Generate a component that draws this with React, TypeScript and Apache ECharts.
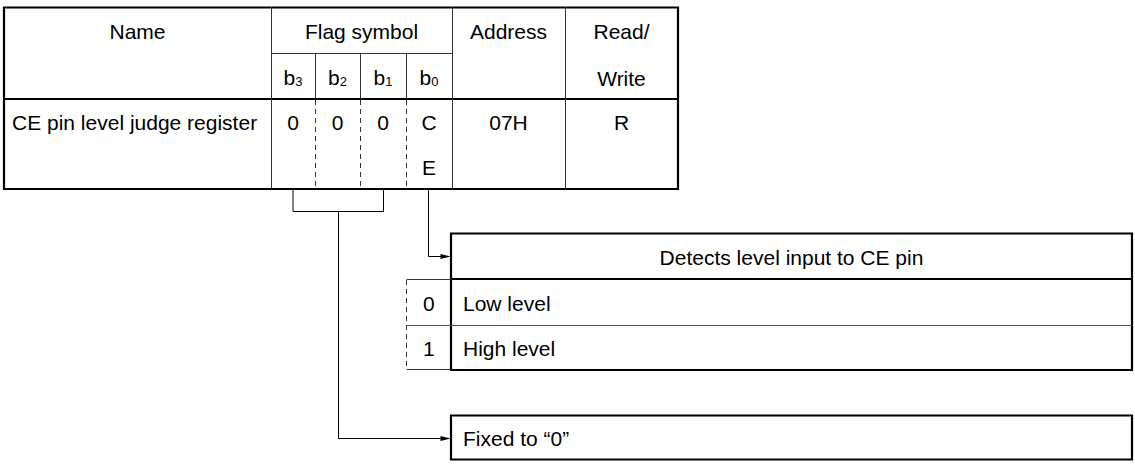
import React, { useEffect, useRef } from "react";
import * as echarts from "echarts";

// ---- content ----
const headerNames = ["Name", "Flag symbol", "Address", "Read/\nWrite"];
const bitLabels = ["3", "2", "1", "0"]; // subscript digits for b3..b0
const bitValues = ["0", "0", "0", "CE"];
const registerName = "CE pin level judge register";
const registerAddress = "07H";
const registerRW = "R";
const functionTitle = "Detects level input to CE pin";
const optionValues = ["0", "1"];
const optionTexts = ["Low level", "High level"];
const fixedText = "Fixed to \u201c0\u201d";

// ---- layout ----
const FONT = '"Liberation Sans", Arial, Helvetica, sans-serif';
const FS = 21;
const colX = [4, 271, 315, 360, 406, 452, 565, 678];
const rowY = [7, 53, 99, 144, 189];
const box1 = { l: 451, t: 233.5, r: 1132, b: 370, head: 279, mid: 325, dashX: 406.5 };
const box2 = { l: 451, t: 415.5, r: 1132, b: 459.5 };
const INK = "#000";
const THIN = "#333";

function txt(x: number, y: number, text: string, align = "center", extra: any = {}) {
  return {
    type: "text",
    x,
    y,
    silent: true,
    style: {
      text,
      fontSize: FS,
      fontFamily: FONT,
      fill: INK,
      align,
      verticalAlign: "middle",
      textAlign: align,
      textVerticalAlign: "middle",
      ...extra,
    },
  };
}
function ln(x1: number, y1: number, x2: number, y2: number, w = 1, color = INK, dash?: number[]) {
  return {
    type: "line",
    silent: true,
    shape: { x1, y1, x2, y2 },
    style: { stroke: color, lineWidth: w, lineDash: dash, fill: "none" },
  };
}
function arrow(tipX: number, y: number) {
  return {
    type: "polygon",
    silent: true,
    shape: { points: [[tipX, y], [tipX - 10, y - 2.5], [tipX - 10, y + 2.5]] },
    style: { fill: INK, stroke: "none" },
  };
}

function buildGraphics() {
  const g: any[] = [];
  const [x0, xName, xb3b2, xb2b1, xb1b0, xFlagR, xAddrR, xR] = colX;
  const [y0, yH1, yH2, yMid, yB] = rowY;
  const c = (a: number, b: number) => (a + b) / 2;

  // table outer border
  g.push({
    type: "rect",
    silent: true,
    shape: { x: x0, y: y0 + 0.5, width: xR - x0, height: yB - y0 - 0.5 },
    style: { fill: "none", stroke: INK, lineWidth: 2.2 },
  });
  // header bottom thick line
  g.push(ln(x0, yH2, xR, yH2, 2.2));
  // vertical column lines
  [xName, xFlagR, xAddrR].forEach((x) => g.push(ln(x + 0.5, y0, x + 0.5, yB, 1, THIN)));
  // flag header split
  g.push(ln(xName, yH1 + 0.5, xFlagR, yH1 + 0.5, 1, THIN));
  // bit separators: solid in header, dashed in body
  [xb3b2, xb2b1, xb1b0].forEach((x) => {
    g.push(ln(x + 0.5, yH1, x + 0.5, yH2, 1, THIN));
    g.push(ln(x + 0.5, yH2 + 1, x + 0.5, yB - 1, 1, THIN, [5, 4]));
  });

  // header texts
  g.push(txt(c(x0, xName), c(y0, yH1) + 1, headerNames[0]));
  g.push(txt(c(xName, xFlagR), c(y0, yH1) + 1, headerNames[1]));
  g.push(txt(c(xFlagR, xAddrR), c(y0, yH1) + 1, headerNames[2]));
  const rw = headerNames[3].split("\n");
  g.push(txt(c(xAddrR, xR), c(y0, yH1) + 1, rw[0]));
  g.push(txt(c(xAddrR, xR), c(yH1, yH2) + 2, rw[1]));

  const bitCols = [xName, xb3b2, xb2b1, xb1b0, xFlagR];
  bitLabels.forEach((d, i) => {
    const cx = c(bitCols[i], bitCols[i + 1]);
    g.push(
      txt(cx, c(yH1, yH2) + 1, "{b|b}{s|" + d + "}", "center", {
        rich: {
          b: { fontSize: FS, fontFamily: FONT, fill: INK },
          s: { fontSize: 13, fontFamily: FONT, fill: INK, verticalAlign: "bottom" },
        },
      })
    );
    const chars = bitValues[i].split("");
    chars.forEach((ch, k) => {
      g.push(txt(cx, c(yH2, yMid) + 1 + k * (yMid - yH2), ch));
    });
  });

  // register row
  g.push(txt(12, c(yH2, yMid) + 1, registerName, "left"));
  g.push(txt(c(xFlagR, xAddrR), c(yH2, yMid) + 1, registerAddress));
  g.push(txt(c(xAddrR, xR), c(yH2, yMid) + 1, registerRW));

  // bracket under b3..b1
  const bxL = c(xName, xb3b2) - 0.5 + 0.5;
  const bxR = c(xb2b1, xb1b0) + 0.5;
  const by = 211.5;
  g.push({
    type: "polyline",
    silent: true,
    shape: { points: [[bxL, yB], [bxL, by], [bxR, by], [bxR, yB]] },
    style: { stroke: INK, lineWidth: 1, fill: "none" },
  });
  const bcx = 338.5;
  g.push({
    type: "polyline",
    silent: true,
    shape: { points: [[bcx, by], [bcx, 438.5], [box2.l - 8, 438.5]] },
    style: { stroke: INK, lineWidth: 1, fill: "none" },
  });
  g.push(arrow(box2.l - 0.5, 438.5));

  // b0 connector
  const b0x = 428.5;
  g.push({
    type: "polyline",
    silent: true,
    shape: { points: [[b0x, yB], [b0x, 256.5], [box1.l - 8, 256.5]] },
    style: { stroke: INK, lineWidth: 1, fill: "none" },
  });
  g.push(arrow(box1.l - 0.5, 256.5));

  // function box
  g.push({
    type: "rect",
    silent: true,
    shape: { x: box1.l, y: box1.t, width: box1.r - box1.l, height: box1.b - box1.t },
    style: { fill: "none", stroke: INK, lineWidth: 2.2 },
  });
  g.push(ln(box1.l, box1.head, box1.r, box1.head, 2.2));
  g.push(ln(box1.dashX, box1.mid + 0.5, box1.r, box1.mid + 0.5, 1, "#555"));
  g.push(ln(box1.dashX, box1.head + 0.5, box1.l, box1.head + 0.5, 1, THIN));
  g.push(ln(box1.dashX, box1.b - 0.5, box1.l, box1.b - 0.5, 1, THIN));
  g.push(ln(box1.dashX, box1.head + 1, box1.dashX, box1.b - 1, 1, THIN, [5, 4]));
  g.push(txt(c(box1.l, box1.r), c(box1.t, box1.head) + 1, functionTitle));
  const rows = [c(box1.head, box1.mid), c(box1.mid, box1.b)];
  optionValues.forEach((v, i) => {
    g.push(txt(c(box1.dashX, box1.l), rows[i] + 1, v));
    g.push(txt(463, rows[i] + 1, optionTexts[i], "left"));
  });

  // fixed box
  g.push({
    type: "rect",
    silent: true,
    shape: { x: box2.l, y: box2.t, width: box2.r - box2.l, height: box2.b - box2.t },
    style: { fill: "none", stroke: INK, lineWidth: 2.2 },
  });
  g.push(txt(463, c(box2.t, box2.b) + 1, fixedText, "left"));

  return g;
}

export default function App() {
  const ref = useRef<HTMLDivElement>(null);
  useEffect(() => {
    if (!ref.current) return;
    const chart = echarts.init(ref.current, undefined, { renderer: "svg" });
    chart.setOption({
      animation: false,
      backgroundColor: "#ffffff",
      graphic: { elements: buildGraphics() },
    });
    return () => chart.dispose();
  }, []);
  return (
    <div
      ref={ref}
      style={{ position: "fixed", left: 0, top: 0, width: 1135, height: 470, background: "#fff" }}
    />
  );
}
